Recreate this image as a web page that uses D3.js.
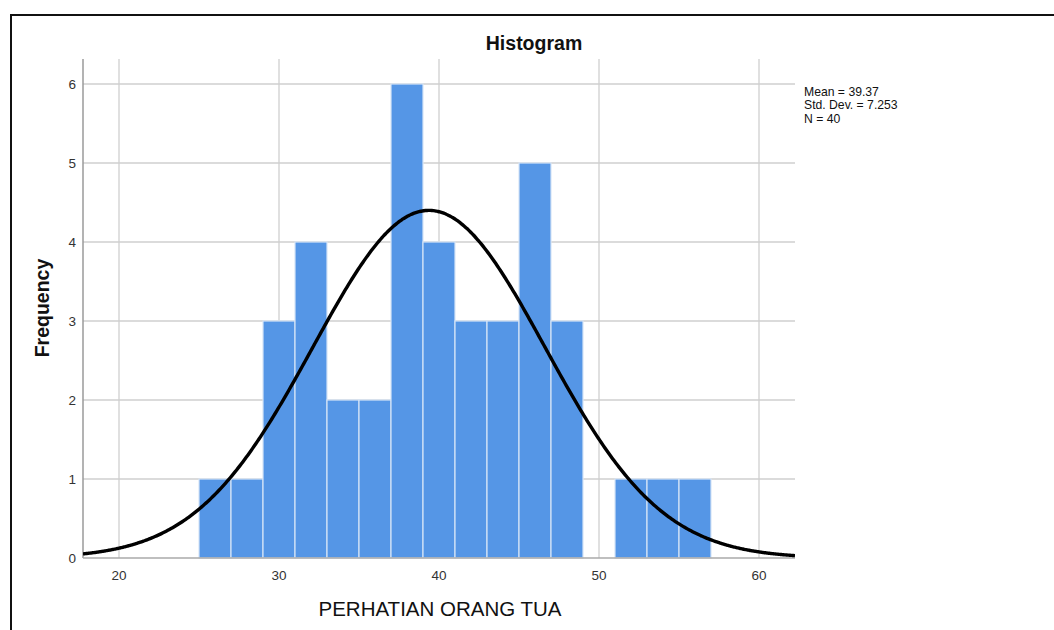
<!DOCTYPE html>
<html><head><meta charset="utf-8">
<script src="https://cdn.jsdelivr.net/npm/d3@7"></script>
<style>body{margin:0;background:#fff;}svg{display:block;font-family:"Liberation Sans",Arial,sans-serif;}</style>
</head><body>
<svg id="c" width="1054" height="630"></svg>
<script>
const binStarts = [25,27,29,31,33,35,37,39,41,43,45,47,49,51,53,55];
const binCounts = [1,1,3,4,2,2,6,4,3,3,5,3,0,1,1,1];
const binWidth = 2;
const xTicks = [20,30,40,50,60];
const yTicks = [0,1,2,3,4,5,6];
const statsLines = ["Mean = 39.37","Std. Dev. = 7.253","N = 40"];
const mean = 39.37, sd = 7.253, n = 40;

const svg = d3.select("#c");
const L=83,R=795,T=59,B=558;
const x = d3.scaleLinear().domain([17.75,62.25]).range([L,R]);
const y = d3.scaleLinear().domain([0,6]).range([B,84]);

// frame
svg.append("path").attr("d",`M11,640 L11,15 L1064,15`).attr("fill","none").attr("stroke","#111").attr("stroke-width",2);

// grid
svg.append("g").selectAll("line").data(xTicks).join("line")
  .attr("x1",d=>x(d)).attr("x2",d=>x(d)).attr("y1",T).attr("y2",B)
  .attr("stroke","#cfcfcf").attr("stroke-width",1.3);
svg.append("g").selectAll("line").data(yTicks.slice(1)).join("line")
  .attr("x1",L).attr("x2",R).attr("y1",d=>y(d)).attr("y2",d=>y(d))
  .attr("stroke","#cfcfcf").attr("stroke-width",1.3);

// bars
svg.append("g").selectAll("rect").data(binStarts.map((s,i)=>({s,c:binCounts[i]})).filter(d=>d.c>0)).join("rect")
  .attr("x",d=>x(d.s)).attr("width",d=>x(d.s+binWidth)-x(d.s))
  .attr("y",d=>y(d.c)).attr("height",d=>y(0)-y(d.c))
  .attr("fill","#5596e6").attr("stroke","#d6e4f7").attr("stroke-width",1.2);

// axes
svg.append("line").attr("x1",L).attr("x2",L).attr("y1",T).attr("y2",B).attr("stroke","#9a9a9a").attr("stroke-width",1.5);
svg.append("line").attr("x1",L).attr("x2",R).attr("y1",B).attr("y2",B).attr("stroke","#aaaaaa").attr("stroke-width",1.5);

// curve
svg.append("defs").append("clipPath").attr("id","cp").append("rect").attr("x",L).attr("y",T).attr("width",R-L).attr("height",B-T+5);
const pts = d3.range(17.75,62.26,0.1).map(v=>[v, n*binWidth*Math.exp(-0.5*((v-mean)/sd)**2)/(sd*Math.sqrt(2*Math.PI))]);
svg.append("path").datum(pts).attr("clip-path","url(#cp)")
  .attr("d",d3.line().x(d=>x(d[0])).y(d=>y(d[1])).curve(d3.curveBasis))
  .attr("fill","none").attr("stroke","#000").attr("stroke-width",3.4);

// tick labels
svg.append("g").selectAll("text").data(yTicks).join("text")
  .attr("x",76).attr("y",d=>y(d)+5).attr("text-anchor","end").attr("font-size",13.5).attr("fill","#333").text(d=>d);
svg.append("g").selectAll("text").data(xTicks).join("text")
  .attr("x",d=>x(d)).attr("y",580).attr("text-anchor","middle").attr("font-size",13.5).attr("fill","#333").text(d=>d);

// titles
svg.append("text").attr("x",534).attr("y",50).attr("text-anchor","middle").attr("font-size",19.5).attr("font-weight","bold").attr("fill","#111").text("Histogram");
svg.append("text").attr("transform","translate(49,308) rotate(-90)").attr("text-anchor","middle").attr("font-size",19.5).attr("font-weight","bold").attr("fill","#111").text("Frequency");
svg.append("text").attr("x",440).attr("y",616).attr("text-anchor","middle").attr("font-size",20.5).attr("fill","#111").text("PERHATIAN ORANG TUA");

// stats
svg.append("g").selectAll("text").data(statsLines).join("text")
  .attr("x",804).attr("y",(d,i)=>96+i*13.4).attr("font-size",12.2).attr("fill","#111").text(d=>d);
</script>
</body></html>
